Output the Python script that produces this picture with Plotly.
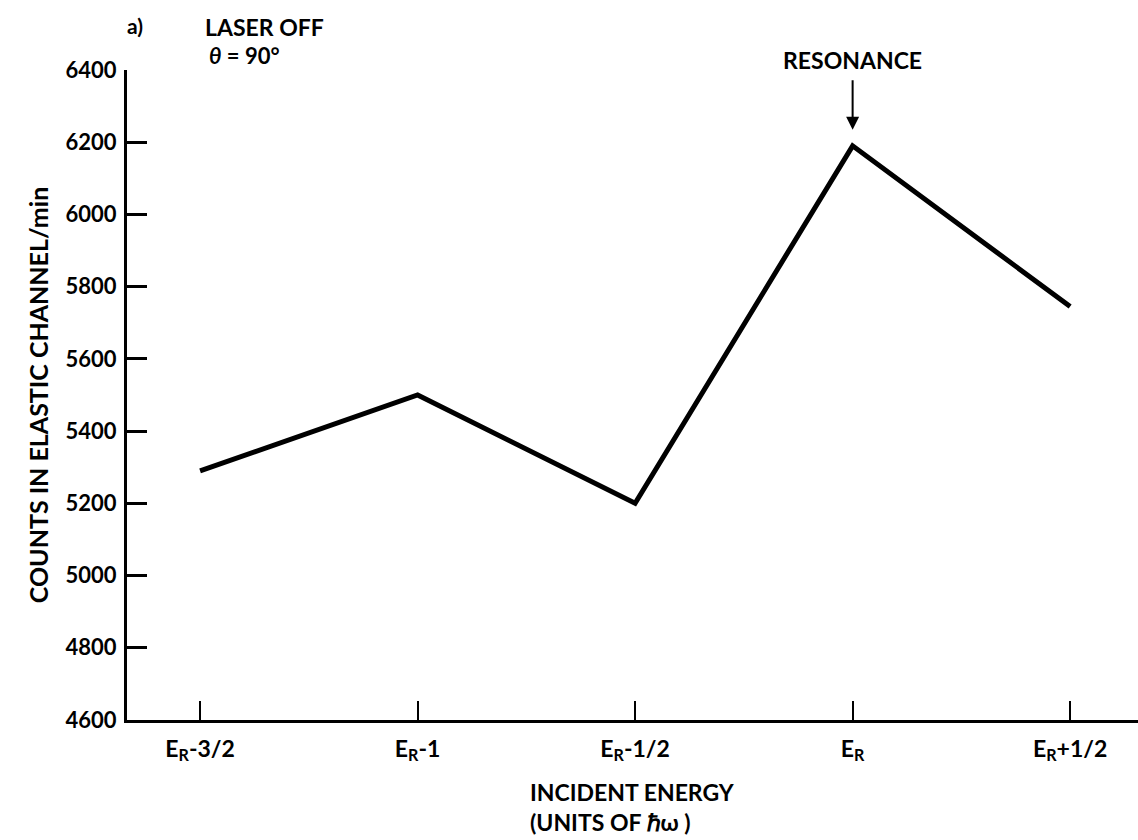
import plotly.graph_objects as go

# Data (incident energy in units of hbar*omega relative to E_R)
energy_offsets = [-1.5, -1.0, -0.5, 0.0, 0.5]
counts = [5290, 5500, 5200, 6190, 5745]
tick_vals_x = [-1.5, -1.0, -0.5, 0.0, 0.5]
tick_text_x = ["E<sub>R</sub>-3/2", "E<sub>R</sub>-1", "E<sub>R</sub>-1/2", "E<sub>R</sub>", "E<sub>R</sub>+1/2"]
tick_vals_y = [4600, 4800, 5000, 5200, 5400, 5600, 5800, 6000, 6200, 6400]
resonance_x = 0.0
resonance_y = 6190

FONT = "Lato"

fig = go.Figure()
fig.add_trace(go.Scatter(
    x=energy_offsets, y=counts, mode="lines",
    line=dict(color="black", width=5),
    hoverinfo="skip", showlegend=False,
))

fig.update_layout(
    width=1138, height=840,
    margin=dict(l=127, r=0, t=70, b=120),
    paper_bgcolor="white", plot_bgcolor="white",
    font=dict(family=FONT, color="black", size=20, weight="bold"),
    xaxis=dict(
        range=[-1.668, 0.656],
        tickmode="array", tickvals=tick_vals_x, ticktext=tick_text_x,
        ticks="inside", ticklen=19, tickwidth=2, tickcolor="black",
        showline=True, linecolor="black", linewidth=3,
        showgrid=False, zeroline=False, ticklabelstandoff=6,
        tickfont=dict(family=FONT, size=23, weight="bold"),
    ),
    yaxis=dict(
        range=[4600, 6400],
        tickmode="array", tickvals=tick_vals_y,
        ticks="inside", ticklen=20, tickwidth=3, tickcolor="black",
        showline=True, linecolor="black", linewidth=3,
        showgrid=False, zeroline=False, ticklabelstandoff=3,
        tickfont=dict(family=FONT, size=22, weight="bold"),
        title=dict(text="COUNTS IN ELASTIC CHANNEL/min", standoff=10,
                   font=dict(family=FONT, size=25, weight="bold")),
    ),
    annotations=[
        dict(text="INCIDENT ENERGY<br>(UNITS OF \u210f\u03c9 )", x=0.3966, y=-0.134,
             xref="paper", yref="paper", xanchor="left", yanchor="middle", align="left",
             showarrow=False, font=dict(family=FONT, size=23, weight="bold")),
        dict(text="a)", x=0.0079, y=1.069, xref="paper", yref="paper",
             xanchor="center", yanchor="middle", showarrow=False,
             font=dict(family=FONT, size=21, weight="bold")),
        dict(text="LASER OFF", x=0.0749, y=1.066, xref="paper", yref="paper",
             xanchor="left", yanchor="middle", showarrow=False,
             font=dict(family=FONT, size=23, weight="bold")),
        dict(text="<i>\u03b8</i> = 90\u00b0", x=0.0795, y=1.023, xref="paper", yref="paper",
             xanchor="left", yanchor="middle", showarrow=False,
             font=dict(family=FONT, size=22, weight="bold")),
        dict(text="RESONANCE", x=resonance_x, y=1.0154, xref="x", yref="paper",
             xanchor="center", yanchor="middle", showarrow=False,
             font=dict(family=FONT, size=23, weight="bold")),
        dict(text="", x=resonance_x, y=resonance_y, xref="x", yref="y",
             ax=0, ay=-67, showarrow=True, arrowhead=2, arrowsize=1.3,
             arrowwidth=2, arrowcolor="black", standoff=16),
    ],
)

fig.write_html("out.html")
